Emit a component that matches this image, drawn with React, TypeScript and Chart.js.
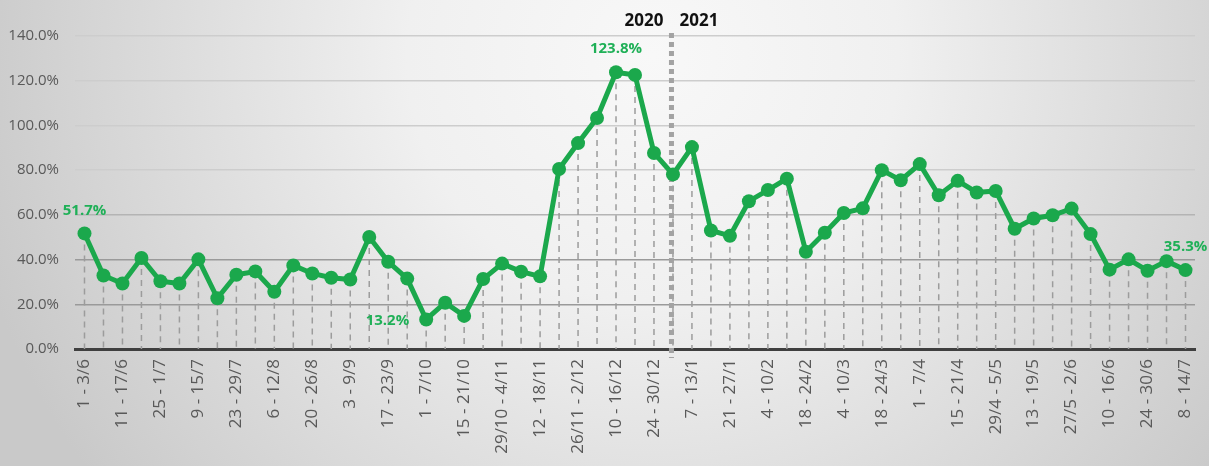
import React, { useEffect, useRef } from "react";
import { Chart, registerables } from "chart.js";

Chart.register(...registerables);

const weekLabels: string[] = [
  "1 - 3/6", "4 - 10/6", "11 - 17/6", "18 - 24/6", "25 - 1/7", "2 - 8/7", "9 - 15/7", "16 - 22/7",
  "23 - 29/7", "30/7 - 5/8", "6 - 12/8", "13 - 19/8", "20 - 26/8", "27/8 - 2/9", "3 - 9/9", "10 - 16/9",
  "17 - 23/9", "24 - 30/9", "1 - 7/10", "8 - 14/10", "15 - 21/10", "22 - 28/10", "29/10 - 4/11", "5 - 11/11",
  "12 - 18/11", "19 - 25/11", "26/11 - 2/12", "3 - 9/12", "10 - 16/12", "17 - 23/12", "24 - 30/12", "31/12 - 6/1",
  "7 - 13/1", "14 - 20/1", "21 - 27/1", "28/1 - 3/2", "4 - 10/2", "11 - 17/2", "18 - 24/2", "25/2 - 3/3",
  "4 - 10/3", "11 - 17/3", "18 - 24/3", "25 - 31/3", "1 - 7/4", "8 - 14/4", "15 - 21/4", "22 - 28/4",
  "29/4 - 5/5", "6 - 12/5", "13 - 19/5", "20 - 26/5", "27/5 - 2/6", "3 - 9/6", "10 - 16/6", "17 - 23/6",
  "24 - 30/6", "1 - 7/7", "8 - 14/7",
];

const rateValues: number[] = [
  51.7, 32.9, 29.3, 40.7, 30.3, 29.3, 40.1, 22.7, 33.2, 34.7, 25.6, 37.4, 33.8, 31.9, 31.1, 50.1,
  39.0, 31.5, 13.2, 20.7, 14.8, 31.3, 38.2, 34.6, 32.5, 80.5, 92.1, 103.3, 123.8, 122.6, 87.7, 78.1,
  90.3, 53.0, 50.6, 66.1, 71.1, 76.2, 43.5, 52.0, 60.8, 62.9, 80.0, 75.5, 82.7, 68.8, 75.2, 70.0,
  70.7, 53.8, 58.4, 59.8, 62.8, 51.4, 35.5, 40.1, 35.0, 39.3, 35.3,
];

// indices of the labelled points and where their labels sit
const labelledIndices: number[] = [0, 18, 28, 58];
const labelSides: string[] = ["above", "left", "above", "above"];

const yearDividerIndex = 31;
const yearLeft = "2020";
const yearRight = "2021";

const yTicks: number[] = [0, 20, 40, 60, 80, 100, 120, 140];

const GREEN = "#1ba84c";
const LABEL_GREEN = "#1fb057";
const FONT = "'Open Sans', 'DejaVu Sans', sans-serif";

const bgPlugin = {
  id: "bg",
  beforeDraw(chart: any) {
    const { ctx, width, height } = chart;
    ctx.save();
    const cx = width * 0.54;
    const cy = height * 0.12;
    const g = ctx.createRadialGradient(cx, cy, 0, cx, cy, width * 0.58);
    g.addColorStop(0, "#f8f8f8");
    g.addColorStop(0.35, "#f0f0f0");
    g.addColorStop(1, "#c9c9c9");
    ctx.fillStyle = g;
    ctx.fillRect(0, 0, width, height);
    ctx.restore();
  },
};

const dropPlugin = {
  id: "drops",
  beforeDatasetsDraw(chart: any) {
    const { ctx, chartArea, scales } = chart;
    const meta = chart.getDatasetMeta(0);
    const yZero = scales.y.getPixelForValue(0);
    ctx.save();
    ctx.strokeStyle = "#9c9c9c";
    ctx.lineWidth = 1.5;
    ctx.setLineDash([6, 5]);
    meta.data.forEach((pt: any) => {
      ctx.beginPath();
      ctx.moveTo(pt.x, pt.y);
      ctx.lineTo(pt.x, yZero);
      ctx.stroke();
    });
    // year divider
    const dx = scales.x.getPixelForValue(yearDividerIndex) - 1.5;
    ctx.strokeStyle = "#a3a3a3";
    ctx.lineWidth = 5;
    ctx.setLineDash([5, 4]);
    ctx.beginPath();
    ctx.moveTo(dx, chartArea.top - 3);
    ctx.lineTo(dx, chartArea.bottom + 9);
    ctx.stroke();
    ctx.restore();
  },
  afterDatasetsDraw(chart: any) {
    const { ctx, chartArea, scales } = chart;
    const meta = chart.getDatasetMeta(0);
    ctx.save();
    ctx.font = `bold 15px ${FONT}`;
    ctx.fillStyle = LABEL_GREEN;
    ctx.textBaseline = "middle";
    labelledIndices.forEach((idx, i) => {
      const pt = meta.data[idx];
      const txt = rateValues[idx].toFixed(1) + "%";
      if (labelSides[i] === "left") {
        ctx.textAlign = "right";
        ctx.fillText(txt, pt.x - 17, pt.y + 1);
      } else {
        ctx.textAlign = "center";
        ctx.fillText(txt, pt.x, pt.y - 23);
      }
    });
    const dx = scales.x.getPixelForValue(yearDividerIndex) - 1.5;
    ctx.font = `bold 17px ${FONT}`;
    ctx.fillStyle = "#111111";
    ctx.textAlign = "right";
    ctx.fillText(yearLeft, dx - 8, chartArea.top - 15);
    ctx.textAlign = "left";
    ctx.fillText(yearRight, dx + 8, chartArea.top - 15);
    ctx.restore();
  },
};

export default function App() {
  const canvasRef = useRef<HTMLCanvasElement | null>(null);

  useEffect(() => {
    if (!canvasRef.current) return;
    const chart = new Chart(canvasRef.current, {
      type: "line",
      data: {
        labels: weekLabels,
        datasets: [
          {
            data: rateValues,
            borderColor: GREEN,
            backgroundColor: GREEN,
            borderWidth: 5,
            pointRadius: 7,
            pointBackgroundColor: GREEN,
            pointBorderWidth: 0,
            tension: 0,
            fill: false,
          },
        ],
      },
      options: {
        responsive: false,
        animation: false,
        layout: { padding: { top: 36, right: 14, left: 0, bottom: 0 } },
        plugins: {
          legend: { display: false },
          tooltip: { enabled: false },
        },
        scales: {
          x: {
            offset: true,
            grid: { display: false, drawTicks: false },
            border: { display: true, color: "#3f3f3f", width: 3 },
            ticks: {
              autoSkip: false,
              minRotation: 90,
              maxRotation: 90,
              padding: 10,
              color: "#595959",
              font: { size: 17, family: FONT },
              callback: (_v: any, i: number) => (i % 2 === 0 ? weekLabels[i] : ""),
            },
            afterFit: (scale: any) => {
              scale.height = 117;
              scale.paddingLeft = 0;
              scale.paddingRight = 0;
            },
          },
          y: {
            min: 0,
            max: 140,
            afterBuildTicks: (scale: any) => {
              scale.ticks = yTicks.map((v) => ({ value: v }));
            },
            grid: {
              drawTicks: false,
              lineWidth: 1.5,
              color: (ctx: any) => {
                const v = ctx.tick ? ctx.tick.value : 0;
                if (v <= 40) return "#9a9a9a";
                if (v <= 60) return "#b4b4b4";
                return "#cdcdcd";
              },
            },
            border: { display: false },
            ticks: {
              padding: 16,
              color: "#595959",
              font: { size: 15, family: FONT },
              callback: (v: any) => Number(v).toFixed(1) + "%",
            },
            afterFit: (scale: any) => {
              scale.width = 75;
            },
          },
        },
      },
      plugins: [bgPlugin, dropPlugin],
    });
    return () => chart.destroy();
  }, []);

  return (
    <div style={{ position: "fixed", left: 0, top: 0, width: 1209, height: 466, overflow: "hidden" }}>
      <canvas ref={canvasRef} width={1209} height={466} style={{ display: "block" }} />
    </div>
  );
}
